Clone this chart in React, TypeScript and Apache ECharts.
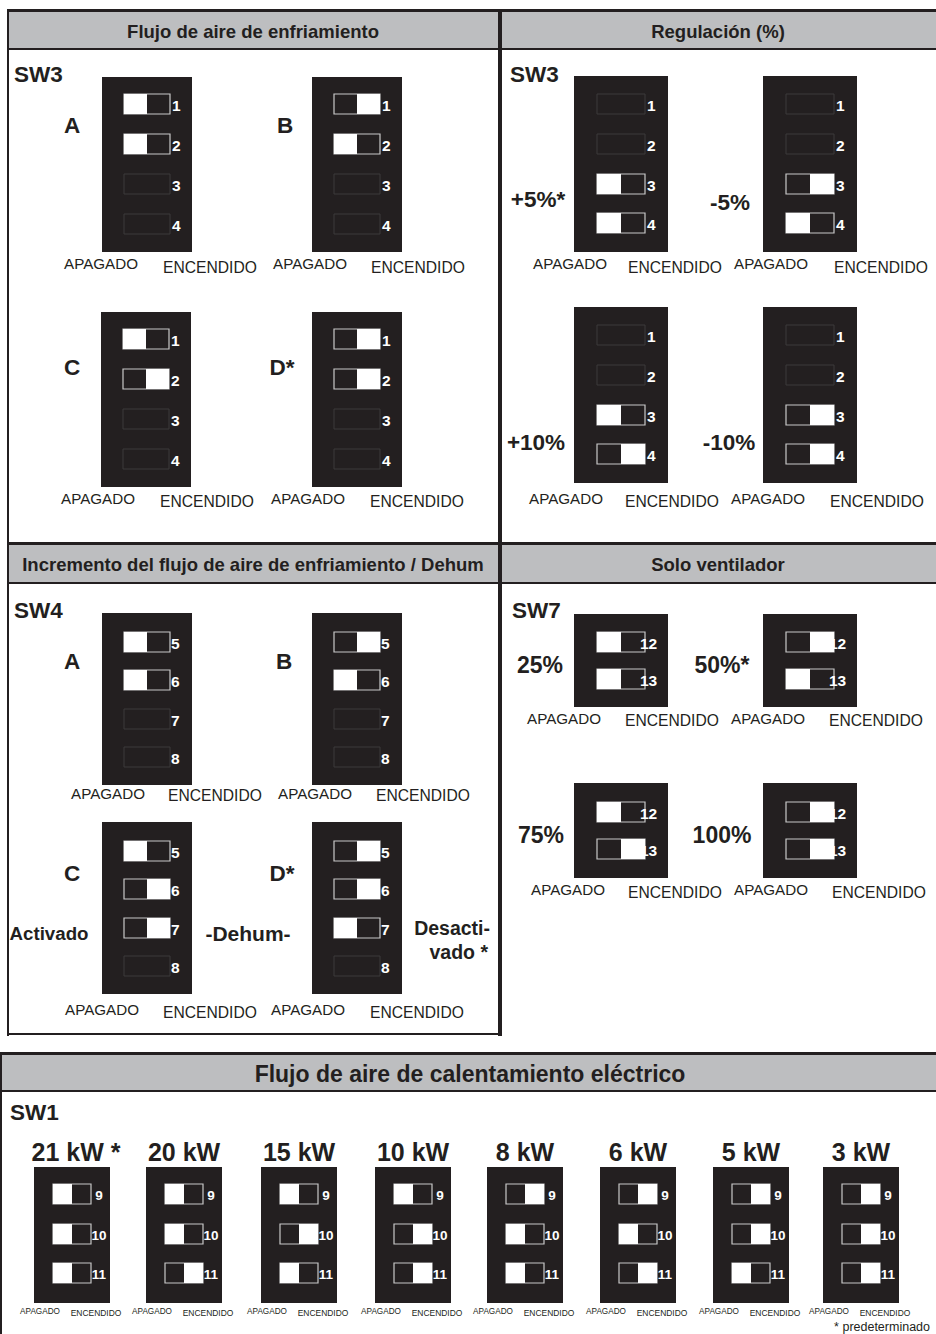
import React, { useEffect, useRef } from "react";
import * as echarts from "echarts";

// ---------------- DATA ----------------
// Switch state: "L" = white slider on APAGADO side, "R" = white slider on ENCENDIDO side, "" = switch not used
const offLabel = "APAGADO";
const onLabel = "ENCENDIDO";

const coolTitle = "Flujo de aire de enfriamiento";
const coolSwitch = "SW3";
const coolNums = ["1", "2", "3", "4"];
const coolOptions = ["A", "B", "C", "D*"];
const coolStates = [
  ["L", "L", "", ""],
  ["R", "L", "", ""],
  ["L", "R", "", ""],
  ["R", "R", "", ""],
];

const regTitle = "Regulación (%)";
const regSwitch = "SW3";
const regNums = ["1", "2", "3", "4"];
const regOptions = ["+5%*", "-5%", "+10%", "-10%"];
const regStates = [
  ["", "", "L", "L"],
  ["", "", "R", "L"],
  ["", "", "L", "R"],
  ["", "", "R", "R"],
];

const incTitle = "Incremento del flujo de aire de enfriamiento / Dehum";
const incSwitch = "SW4";
const incNums = ["5", "6", "7", "8"];
const incOptions = ["A", "B", "C", "D*"];
const incStates = [
  ["L", "L", "", ""],
  ["R", "L", "", ""],
  ["L", "R", "R", ""],
  ["R", "R", "L", ""],
];
const dehumTexts = ["Activado", "-Dehum-", "Desacti-", "vado *"];

const fanTitle = "Solo ventilador";
const fanSwitch = "SW7";
const fanNums = ["12", "13"];
const fanOptions = ["25%", "50%*", "75%", "100%"];
const fanStates = [
  ["L", "L"],
  ["R", "L"],
  ["L", "R"],
  ["R", "R"],
];

const heatTitle = "Flujo de aire de calentamiento eléctrico";
const heatSwitch = "SW1";
const heatNums = ["9", "10", "11"];
const heatOptions = ["21 kW *", "20 kW", "15 kW", "10 kW", "8 kW", "6 kW", "5 kW", "3 kW"];
const heatStates = [
  ["L", "L", "L"],
  ["L", "L", "R"],
  ["L", "R", "L"],
  ["L", "R", "R"],
  ["R", "L", "L"],
  ["R", "L", "R"],
  ["R", "R", "L"],
  ["R", "R", "R"],
];
const footnote = "* predeterminado";

// ---------------- STYLE / LAYOUT ----------------
const FONT = "'Liberation Sans', Arial, Helvetica, sans-serif";
const DARK = "#231f20";
const HEAD = "#bdbec0";

function rect(x: number, y: number, w: number, h: number, fill: string, extra: any = {}) {
  return { type: "rect", silent: true, shape: { x, y, width: w, height: h }, style: { fill, ...extra } };
}
function text(x: number, y: number, t: string, o: any = {}) {
  return {
    type: "text",
    silent: true,
    x,
    y,
    style: {
      text: t,
      fontFamily: FONT,
      fontSize: o.size || 15,
      fontWeight: o.bold ? "bold" : "normal",
      fill: o.fill || DARK,
      align: o.align || "center",
      verticalAlign: o.va || "middle",
    },
  };
}

interface Geom {
  w: number;
  h: number;
  tOff: number;
  tW: number;
  tH: number;
  rows: number[];
  numDx: number;
  numSize: number;
  numAlign: string;
}

function block(els: any[], x: number, y: number, g: Geom, states: string[], nums: string[]) {
  els.push(rect(x, y, g.w, g.h, DARK));
  states.forEach((st, i) => {
    const tx = x + g.tOff;
    const ty = y + g.rows[i] - g.tH / 2;
    if (st === "") {
      els.push(rect(tx, ty, g.tW, g.tH, "none", { stroke: "#3d3a3b", lineWidth: 1 }));
    } else {
      els.push(rect(tx, ty, g.tW, g.tH, DARK, { stroke: "#c8c8c8", lineWidth: 1.2 }));
      const half = g.tW / 2;
      els.push(rect(st === "L" ? tx : tx + half, ty, half, g.tH, "#ffffff"));
    }
  });
  nums.forEach((n, i) => {
    els.push(
      text(x + g.tOff + g.tW + g.numDx, y + g.rows[i] + 1, n, {
        size: g.numSize,
        bold: true,
        fill: "#ffffff",
        align: g.numAlign,
      })
    );
  });
}

function onOff(els: any[], offX: number, offY: number, onX: number, onY: number, size: number) {
  els.push(text(offX, offY, offLabel, { size }));
  els.push(text(onX, onY, onLabel, { size: size * 1.03 }));
}

function buildGraphics() {
  const els: any[] = [];
  // ---- frames ----
  els.push(rect(9, 12, 927, 36, HEAD));
  els.push(rect(9, 545, 927, 37, HEAD));
  els.push(rect(2, 1055, 934, 35, HEAD));
  els.push(rect(7, 9, 929, 3, DARK));
  els.push(rect(7, 48, 929, 2, DARK));
  els.push(rect(7, 542, 929, 3, DARK));
  els.push(rect(7, 582, 929, 2, DARK));
  els.push(rect(7, 9, 2, 1027, DARK));
  els.push(rect(498, 9, 4, 1027, DARK));
  els.push(rect(7, 1033, 495, 2, DARK));
  els.push(rect(0, 1052, 936, 3, DARK));
  els.push(rect(0, 1090, 936, 2, DARK));
  els.push(rect(0, 1052, 2, 282, DARK));

  // ---- headers ----
  els.push(text(253, 31, coolTitle, { size: 18.5, bold: true }));
  els.push(text(718, 31, regTitle, { size: 18.5, bold: true }));
  els.push(text(253, 564, incTitle, { size: 18.5, bold: true }));
  els.push(text(718, 564, fanTitle, { size: 18.5, bold: true }));
  els.push(text(470, 1074, heatTitle, { size: 23, bold: true }));

  els.push(text(14, 74, coolSwitch, { size: 22.5, bold: true, align: "left" }));
  els.push(text(510, 74, regSwitch, { size: 22.5, bold: true, align: "left" }));
  els.push(text(14, 610, incSwitch, { size: 22.5, bold: true, align: "left" }));
  els.push(text(512, 610, fanSwitch, { size: 22.5, bold: true, align: "left" }));
  els.push(text(10, 1112, heatSwitch, { size: 22.5, bold: true, align: "left" }));

  // ---- cooling airflow ----
  const gCool: Geom = { w: 90, h: 175, tOff: 22, tW: 46, tH: 20, rows: [27, 67, 107, 147], numDx: 2, numSize: 15.5, numAlign: "left" };
  const coolPos = [
    { x: 102, y: 77, lx: 72, ly: 125, ax: 101, ay: 263, ex: 210, ey: 267 },
    { x: 312, y: 77, lx: 285, ly: 125, ax: 310, ay: 263, ex: 418, ey: 267 },
    { x: 101, y: 312, lx: 72, ly: 367, ax: 98, ay: 498, ex: 207, ey: 501 },
    { x: 312, y: 312, lx: 282, ly: 367, ax: 308, ay: 498, ex: 417, ey: 501 },
  ];
  coolOptions.forEach((opt, k) => {
    const p = coolPos[k];
    block(els, p.x, p.y, gCool, coolStates[k], coolNums);
    els.push(text(p.lx, p.ly, opt, { size: 22.5, bold: true }));
    onOff(els, p.ax, p.ay, p.ex, p.ey, 15.2);
  });

  // ---- regulation ----
  const gReg: Geom = { w: 94, h: 176, tOff: 23, tW: 48, tH: 20, rows: [28, 68, 108, 147], numDx: 2, numSize: 15.5, numAlign: "left" };
  const regPos = [
    { x: 574, y: 76, lx: 538, ly: 199, ax: 570, ay: 263, ex: 675, ey: 267 },
    { x: 763, y: 76, lx: 730, ly: 202, ax: 771, ay: 263, ex: 881, ey: 267 },
    { x: 574, y: 307, lx: 536, ly: 442, ax: 566, ay: 498, ex: 672, ey: 501 },
    { x: 763, y: 307, lx: 729, ly: 442, ax: 768, ay: 498, ex: 877, ey: 501 },
  ];
  regOptions.forEach((opt, k) => {
    const p = regPos[k];
    block(els, p.x, p.y, gReg, regStates[k], regNums);
    els.push(text(p.lx, p.ly, opt, { size: 22.5, bold: true }));
    onOff(els, p.ax, p.ay, p.ex, p.ey, 15.2);
  });

  // ---- increment / dehum ----
  const gInc: Geom = { w: 90, h: 172, tOff: 22, tW: 46, tH: 20, rows: [29, 67, 106, 144], numDx: 1, numSize: 15.5, numAlign: "left" };
  const incPos = [
    { x: 102, y: 613, lx: 72, ly: 661, ax: 108, ay: 793, ex: 215, ey: 795 },
    { x: 312, y: 613, lx: 284, ly: 661, ax: 315, ay: 793, ex: 423, ey: 795 },
    { x: 102, y: 822, lx: 72, ly: 873, ax: 102, ay: 1009, ex: 210, ey: 1012 },
    { x: 312, y: 822, lx: 282, ly: 873, ax: 308, ay: 1009, ex: 417, ey: 1012 },
  ];
  incOptions.forEach((opt, k) => {
    const p = incPos[k];
    block(els, p.x, p.y, gInc, incStates[k], incNums);
    els.push(text(p.lx, p.ly, opt, { size: 22.5, bold: true }));
    onOff(els, p.ax, p.ay, p.ex, p.ey, 15.2);
  });
  els.push(text(49, 933, dehumTexts[0], { size: 18.7, bold: true }));
  els.push(text(248, 933, dehumTexts[1], { size: 21, bold: true }));
  els.push(text(490, 928, dehumTexts[2], { size: 19.5, bold: true, align: "right" }));
  els.push(text(488, 952, dehumTexts[3], { size: 19.5, bold: true, align: "right" }));

  // ---- fan only ----
  const gFan1: Geom = { w: 94, h: 93, tOff: 23, tW: 48, tH: 20, rows: [28, 65], numDx: -5, numSize: 15.5, numAlign: "left" };
  const gFan2: Geom = { ...gFan1, h: 95, rows: [29, 66] };
  const fanPos = [
    { x: 574, y: 614, g: gFan1, lx: 540, ly: 665, ax: 564, ay: 718, ex: 672, ey: 720 },
    { x: 763, y: 614, g: gFan1, lx: 722, ly: 665, ax: 768, ay: 718, ex: 876, ey: 720 },
    { x: 574, y: 783, g: gFan2, lx: 541, ly: 835, ax: 568, ay: 889, ex: 675, ey: 892 },
    { x: 763, y: 783, g: gFan2, lx: 722, ly: 835, ax: 771, ay: 889, ex: 879, ey: 892 },
  ];
  fanOptions.forEach((opt, k) => {
    const p = fanPos[k];
    block(els, p.x, p.y, p.g, fanStates[k], fanNums);
    els.push(text(p.lx, p.ly, opt, { size: 23, bold: true }));
    onOff(els, p.ax, p.ay, p.ex, p.ey, 15.2);
  });

  // ---- electric heating ----
  const gHeat: Geom = { w: 76, h: 136, tOff: 19, tW: 38, tH: 20, rows: [27, 67, 106], numDx: 8, numSize: 13.5, numAlign: "center" };
  const heatX = [34, 146, 261, 375, 487, 600, 713, 823];
  heatOptions.forEach((opt, k) => {
    const x = heatX[k];
    block(els, x, 1167, gHeat, heatStates[k], heatNums);
    els.push(text(x + 38 + (k === 0 ? 4 : 0), 1152, opt, { size: 25, bold: true }));
    onOff(els, x + 6, 1311, x + 62, 1313, 8.2);
  });
  els.push(text(930, 1327, footnote, { size: 12.5, align: "right" }));

  return els;
}

export default function App() {
  const ref = useRef<HTMLDivElement>(null);
  useEffect(() => {
    if (!ref.current) return;
    const chart = echarts.init(ref.current, undefined, { renderer: "svg", width: 936, height: 1334 });
    chart.setOption({
      animation: false,
      backgroundColor: "#ffffff",
      graphic: { elements: buildGraphics() },
    });
    return () => chart.dispose();
  }, []);
  return (
    <div
      ref={ref}
      style={{ position: "fixed", left: 0, top: 0, width: 936, height: 1334, background: "#ffffff" }}
    />
  );
}
